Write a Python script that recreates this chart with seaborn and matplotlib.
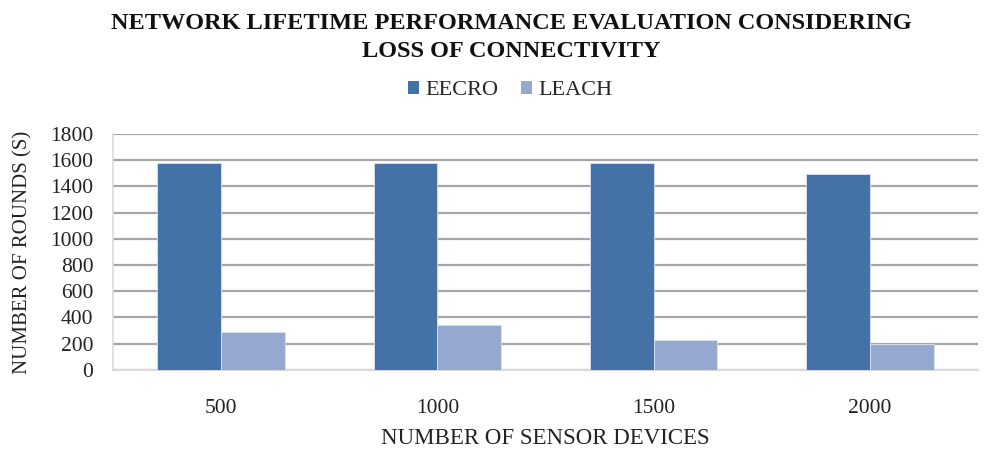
import matplotlib
matplotlib.use("Agg")
import matplotlib.pyplot as plt
import seaborn as sns
import pandas as pd
from matplotlib.patches import Patch

categories = ["500", "1000", "1500", "2000"]
eecro = [1580, 1580, 1580, 1490]
leach = [290, 340, 225, 195]
series_names = ["EECRO", "LEACH"]
yticks = [0, 200, 400, 600, 800, 1000, 1200, 1400, 1600, 1800]

df = pd.DataFrame({
    "devices": categories * 2,
    "rounds": eecro + leach,
    "method": [series_names[0]] * 4 + [series_names[1]] * 4,
})

sns.set_theme(style="white")
plt.rcParams["font.family"] = ["Liberation Serif", "DejaVu Serif"]

colors = ["#4472A6", "#95A9D0"]
fig = plt.figure(figsize=(9.99, 4.49), dpi=100)
ax = fig.add_axes([0.113, 0.176, 0.866, 0.526])

sns.barplot(data=df, x="devices", y="rounds", hue="method", order=categories,
            hue_order=series_names, palette=colors, saturation=1, width=0.59, ax=ax,
            edgecolor="#DCE3F0", linewidth=0.6, legend=False, zorder=3)

ax.set_ylim(0, 1800)
ax.set_yticks(yticks)
ax.set_yticklabels([str(t) for t in yticks], fontsize=15.5)
ax.set_xticks(range(len(categories)))
ax.set_xticklabels(categories, fontsize=15.5)
ax.set_xlim(-0.5, 3.5)
ax.yaxis.grid(True, color="#A6A6A6", linewidth=1.6, zorder=0)
ax.set_axisbelow(True)
for s in ["top", "right"]:
    ax.spines[s].set_visible(False)
ax.spines["left"].set_color("#D9D9D9")
ax.spines["bottom"].set_color("#D9D9D9")
ax.spines["left"].set_linewidth(1.2)
ax.spines["bottom"].set_linewidth(1.5)
ax.tick_params(axis="y", length=0, pad=14, colors="#222222")
ax.tick_params(axis="x", length=0, pad=21, colors="#222222")

ax.set_xlabel("NUMBER OF SENSOR DEVICES", fontsize=16.5, labelpad=7, color="#222222")
ax.set_ylabel("NUMBER OF ROUNDS (S)", fontsize=15, labelpad=6, color="#222222")
ax.yaxis.set_label_coords(-0.093, 0.5)

fig.text(0.512, 0.916, "NETWORK LIFETIME PERFORMANCE EVALUATION CONSIDERING\nLOSS OF CONNECTIVITY",
         ha="center", va="center", fontsize=17.5, fontweight="bold", linespacing=1.45, color="#111111")

handles = [Patch(facecolor=c, edgecolor="none") for c in colors]
fig.legend(handles, series_names, loc="center", bbox_to_anchor=(0.511, 0.798), ncol=2,
           frameon=False, fontsize=16, handlelength=0.5, handleheight=0.5,
           handletextpad=0.3, columnspacing=1.0)

fig.savefig("out.png", dpi=100)
